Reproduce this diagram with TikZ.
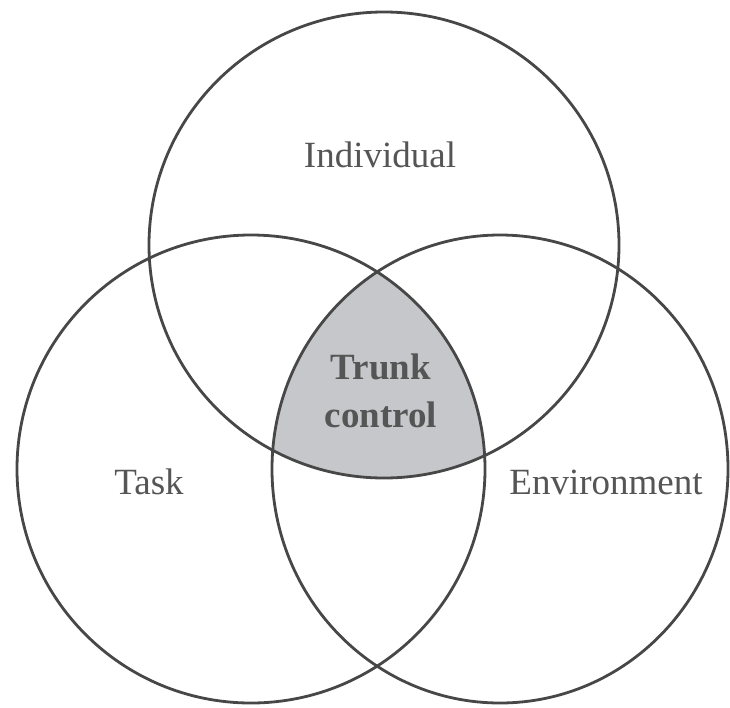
\documentclass[tikz,border=0pt]{standalone}
\usepackage{fontspec}
\setmainfont{Liberation Serif}
\definecolor{edge}{HTML}{474747}
\definecolor{txt}{HTML}{555555}
\definecolor{coregray}{HTML}{C6C7CA}
\begin{document}
\begin{tikzpicture}[x=1pt,y=-1pt,
  ring/.style={draw=edge, line width=2.8pt},
  lbl/.style={text=txt, font=\fontsize{37}{44}\selectfont, inner sep=0pt},
  core/.style={text=txt, font=\fontsize{37}{48}\selectfont\bfseries, inner sep=0pt, align=center}]
\useasboundingbox (0,0) rectangle (730,707);
\fill[white] (0,0) rectangle (730,707);
\coordinate (ci) at (384,245);
\coordinate (ct) at (251,469);
\coordinate (ce) at (500,469);
\begin{scope}
  \clip (ci) ellipse (235 and 233);
  \clip (ct) circle (234);
  \fill[coregray] (ce) ellipse (228 and 234);
\end{scope}
\draw[ring] (ci) ellipse (235 and 233);
\draw[ring] (ct) circle (234);
\draw[ring] (ce) ellipse (228 and 234);
\node[lbl] (ind) at (380,155) {Individual};
\node[lbl] (task) at (149,482) {Task};
\node[lbl] (env) at (606,482) {Environment};
\node[core] (trunk) at (381,391) {Trunk\\control};
\end{tikzpicture}
\end{document}
